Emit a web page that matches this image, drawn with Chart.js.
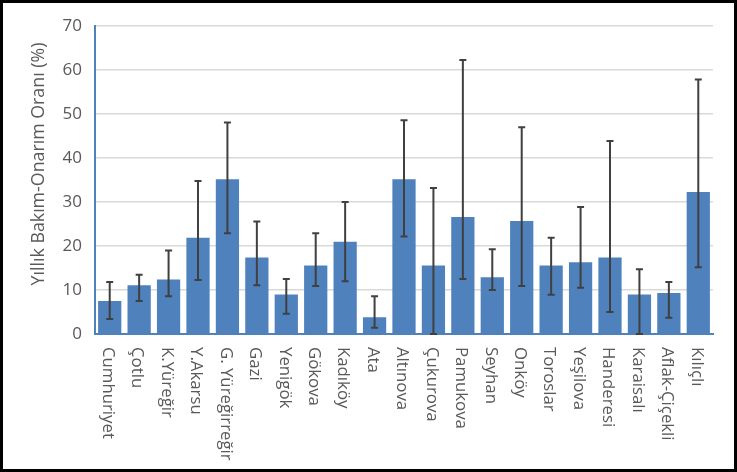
<!DOCTYPE html>
<html><head><meta charset="utf-8">
<script src="https://cdn.jsdelivr.net/npm/chart.js@4.4.1/dist/chart.umd.min.js"></script>
<style>
html,body{margin:0;padding:0;background:#fff;}
#wrap{width:737px;height:472px;box-sizing:border-box;border:3px solid #000;background:#fff;}
canvas{display:block;}
</style></head><body>
<div id="wrap"><canvas id="c" width="731" height="466"></canvas></div>
<script>
const categories = ["Cumhuriyet","Çotlu","K.Yüreğir","Y.Akarsu","G. Yüreğirreğir","Gazi","Yenigök","Gökova","Kadıköy","Ata","Altınova","Çukurova","Pamukova","Seyhan","Onköy","Toroslar","Yeşilova","Handeresi","Karaisalı","Aflak-Çiçekli","Kılıçlı"];
const values  = [7.5, 11.1, 12.4, 21.9, 35.2, 17.4, 9.0, 15.6, 21.0, 3.8, 35.2, 15.6, 26.6, 12.9, 25.7, 15.6, 16.3, 17.4, 9.0, 9.3, 32.3];
const errLow  = [3.4, 7.5, 8.6, 12.3, 22.9, 11.1, 4.6, 10.9, 12.0, 1.4, 22.2, 0, 12.5, 10.0, 10.9, 8.9, 10.5, 5.0, 0, 3.7, 15.2];
const errHigh = [11.8, 13.5, 19.0, 34.8, 48.1, 25.6, 12.5, 22.9, 30.0, 8.6, 48.6, 33.2, 62.3, 19.3, 47.0, 21.9, 28.9, 43.9, 14.7, 11.8, 57.9];
const yTicks = [0, 10, 20, 30, 40, 50, 60, 70];
const yTitle = "Yıllık Bakım-Onarım Oranı (%)";

const FONT = "'Open Sans', sans-serif";
const TEXT = "#595959";

const errorBars = {
  id: 'errorBars',
  afterDatasetsDraw(chart) {
    const {ctx, scales: {x, y}} = chart;
    ctx.save();
    ctx.strokeStyle = '#404040';
    ctx.lineWidth = 2;
    values.forEach((v, i) => {
      const px = x.getPixelForValue(i);
      const yt = y.getPixelForValue(errHigh[i]);
      const yb = y.getPixelForValue(errLow[i]);
      ctx.beginPath();
      ctx.moveTo(px, yt); ctx.lineTo(px, yb);
      ctx.moveTo(px - 3.5, yt); ctx.lineTo(px + 3.5, yt);
      ctx.moveTo(px - 3.5, yb); ctx.lineTo(px + 3.5, yb);
      ctx.stroke();
    });
    ctx.restore();
  }
};

const labelsPlugin = {
  id: 'labelsPlugin',
  afterDraw(chart) {
    const {ctx, chartArea, scales: {x}} = chart;
    ctx.save();
    ctx.fillStyle = TEXT;
    ctx.font = "16.8px " + FONT;
    ctx.textAlign = 'left';
    ctx.textBaseline = 'middle';
    categories.forEach((c, i) => {
      const px = x.getPixelForValue(i) - 2;
      ctx.save();
      ctx.translate(px, chartArea.bottom + 13);
      ctx.rotate(Math.PI / 2);
      ctx.fillText(c, 0, 0);
      ctx.restore();
    });
    ctx.save();
    ctx.font = "17.8px " + FONT;
    ctx.textAlign = 'center';
    ctx.translate(36, 161);
    ctx.rotate(-Math.PI / 2);
    ctx.fillText(yTitle, 0, 0);
    ctx.restore();
    ctx.restore();
  }
};

new Chart(document.getElementById('c'), {
  type: 'bar',
  data: {
    labels: categories,
    datasets: [{
      data: values,
      backgroundColor: '#4f81bd',
      barPercentage: 0.79,
      categoryPercentage: 1.0
    }]
  },
  options: {
    responsive: false,
    animation: false,
    devicePixelRatio: 1,
    layout: { padding: { top: 21, right: 21, bottom: 0, left: 0 } },
    plugins: { legend: { display: false }, tooltip: { enabled: false } },
    scales: {
      x: {
        ticks: { display: false },
        grid: { display: false },
        border: { display: true, color: '#4f81bd', width: 2 },
        afterFit(s) { s.height = 135; }
      },
      y: {
        min: 0, max: 70,
        afterBuildTicks(s) { s.ticks = yTicks.map(v => ({ value: v })); },
        ticks: { color: TEXT, font: { family: FONT, size: 17 }, padding: 13 },
        grid: { color: '#d9d9d9', lineWidth: 1.5, drawTicks: false },
        border: { display: true, color: '#4f81bd', width: 2 },
        afterFit(s) { s.width = 92; }
      }
    }
  },
  plugins: [errorBars, labelsPlugin]
});
</script>
</body></html>
